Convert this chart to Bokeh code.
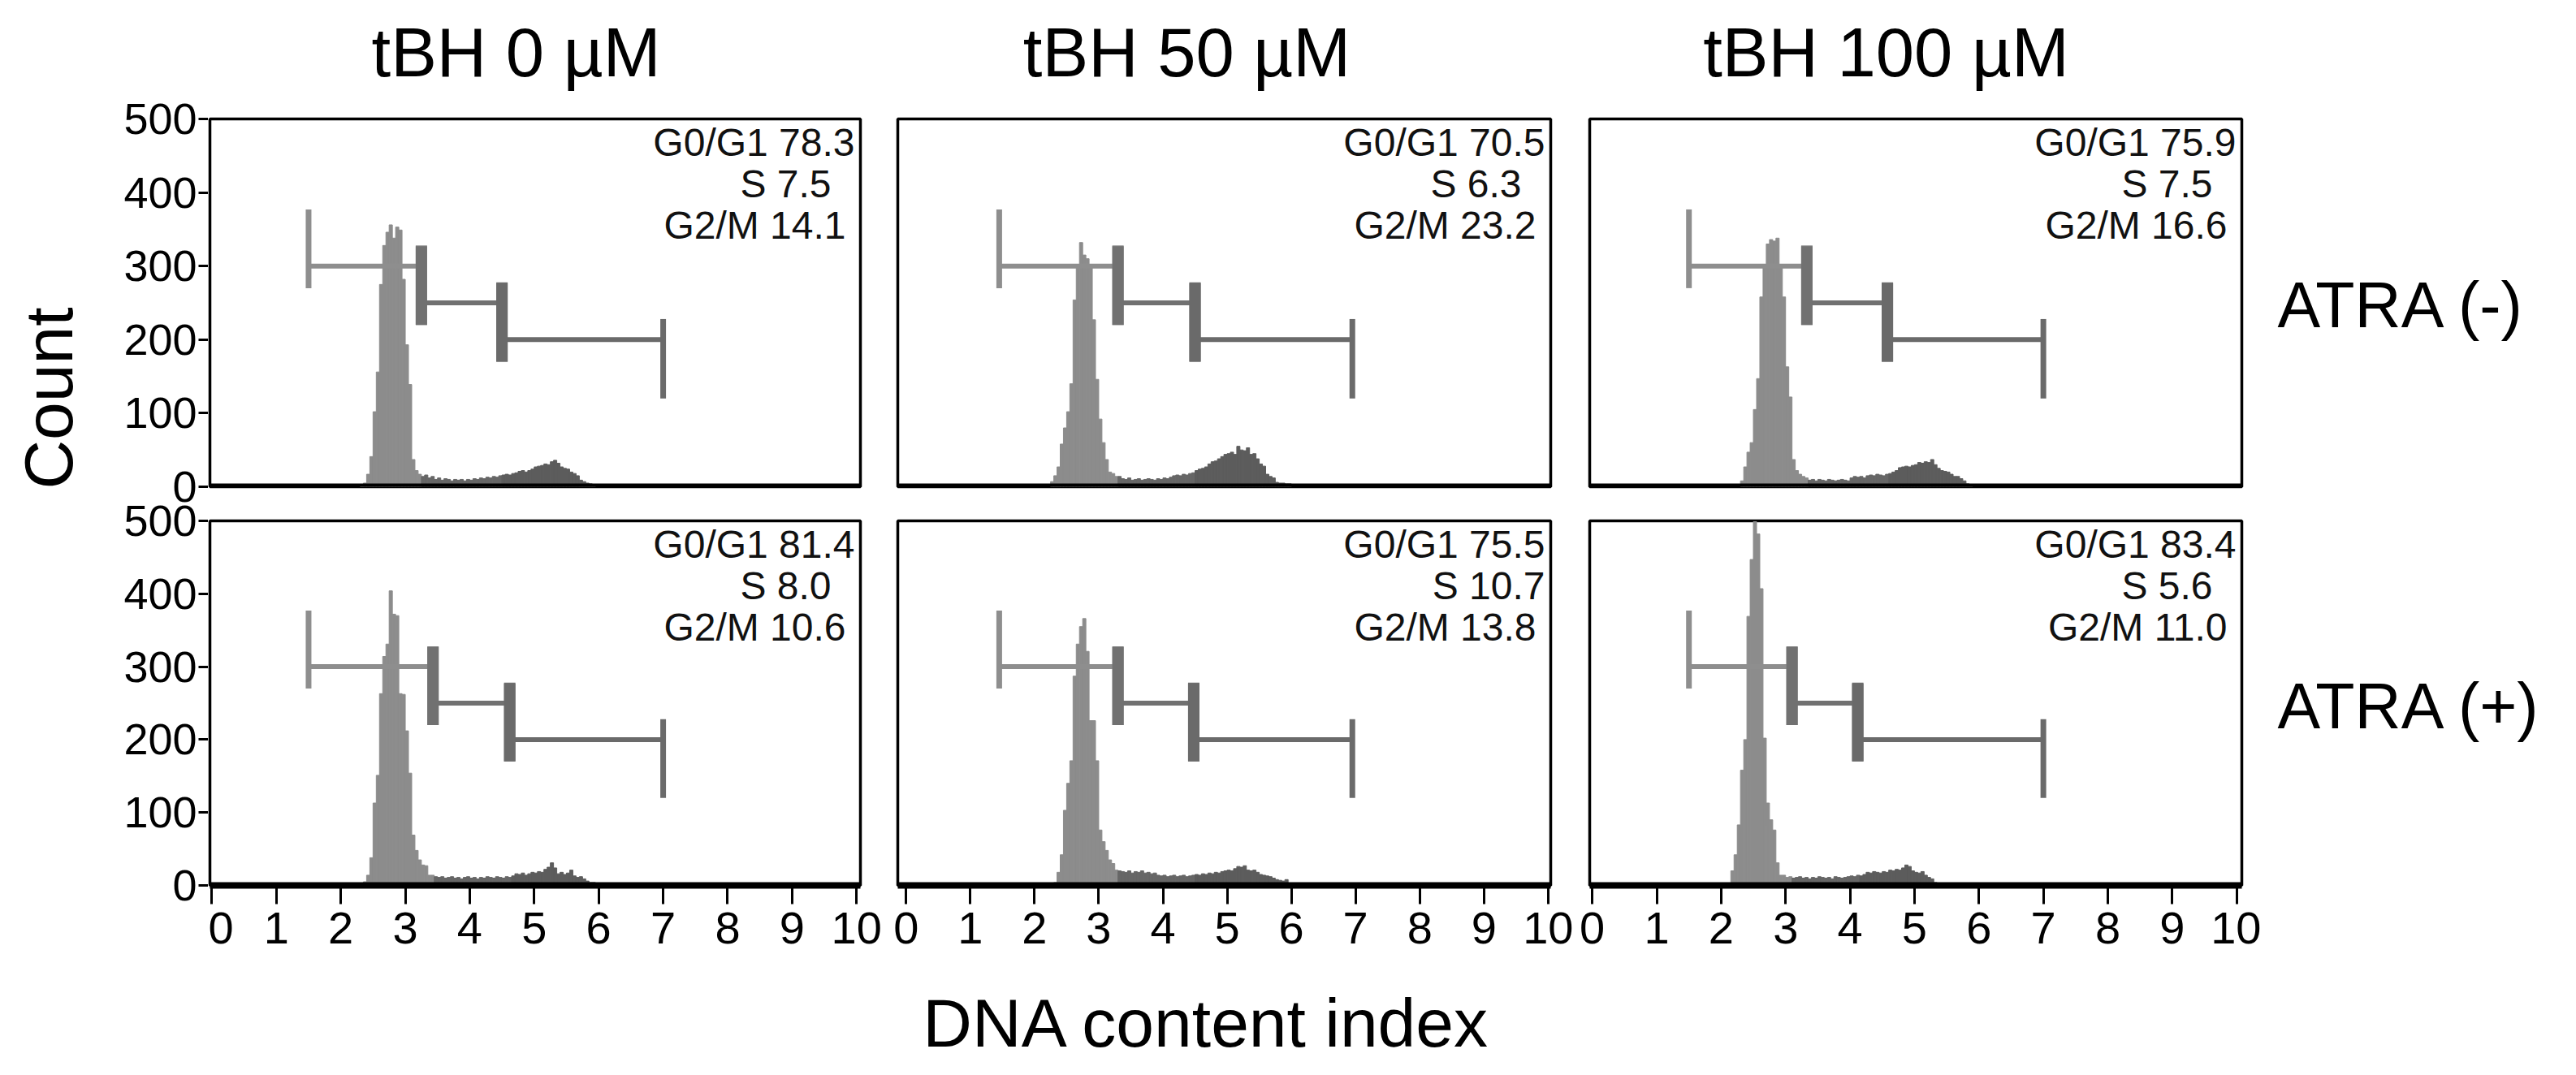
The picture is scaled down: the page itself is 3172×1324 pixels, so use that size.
import numpy as np
from bokeh.plotting import figure
from bokeh.models import Range1d, Label, Span, FixedTicker, ColumnDataSource
from bokeh.layouts import row, column
from bokeh.embed import file_html
from bokeh.resources import INLINE

# ---------------- data ----------------
COLUMN_TITLES = ["tBH 0 µM", "tBH 50 µM", "tBH 100 µM"]
ROW_LABELS = ["ATRA (-)", "ATRA (+)"]
X_LABEL = "DNA content index"
Y_LABEL = "Count"
X_TICKS = [0, 1, 2, 3, 4, 5, 6, 7, 8, 9, 10]
Y_TICKS = [0, 100, 200, 300, 400, 500]

BIN_WIDTH = 0.05
# panel order: row1 col1..col3, row2 col1..col3
HIST_START = [2.30, 2.25, 2.30, 2.30, 2.30, 2.15]

HIST_R1C1 = [0, 5, 17, 41, 102, 156, 275, 328, 346, 356, 338, 353, 349, 282, 193, 139, 37, 22,
             17, 14, 16, 12, 14, 10, 12, 9, 11, 10, 8, 10, 9, 10, 8, 10, 9, 11, 10, 12, 11, 13,
             12, 14, 13, 15, 16, 17, 16, 18, 19, 21, 22, 20, 22, 24, 27, 28, 29, 31, 30, 34,
             36, 32, 27, 25, 24, 20, 18, 15, 9, 7, 5, 4, 3]
HIST_R1C2 = [7, 15, 27, 58, 80, 102, 140, 254, 302, 332, 315, 310, 300, 227, 146, 92, 60, 37,
             20, 18, 14, 14, 11, 10, 12, 9, 10, 11, 9, 10, 11, 10, 9, 11, 10, 12, 11, 13, 15,
             16, 15, 17, 16, 18, 19, 22, 24, 25, 27, 31, 34, 35, 38, 41, 44, 45, 47, 44, 55,
             50, 49, 53, 44, 45, 38, 31, 28, 17, 14, 12, 6, 5, 5, 4, 4]
HIST_R1C3 = [8, 27, 47, 60, 105, 147, 258, 302, 330, 336, 334, 338, 300, 258, 163, 122, 37, 22,
             17, 14, 12, 9, 10, 8, 10, 9, 8, 10, 9, 8, 9, 10, 9, 8, 12, 14, 13, 14, 12, 15,
             16, 15, 17, 16, 15, 17, 18, 20, 22, 26, 27, 28, 27, 29, 30, 33, 32, 34, 33, 37,
             30, 25, 22, 21, 20, 17, 14, 14, 11, 8, 4, 3]
HIST_R2C1 = [0, 5, 14, 38, 113, 151, 263, 314, 331, 404, 372, 370, 263, 262, 212, 154, 69, 48,
             35, 28, 27, 14, 14, 12, 11, 12, 10, 11, 12, 10, 11, 9, 11, 12, 10, 11, 9, 11, 10,
             12, 11, 10, 12, 11, 10, 12, 11, 13, 16, 15, 17, 14, 16, 18, 17, 19, 18, 22, 25,
             31, 24, 16, 18, 15, 17, 21, 13, 11, 12, 9, 6, 4, 4, 3]
HIST_R2C2 = [4, 18, 42, 103, 140, 171, 287, 331, 355, 366, 321, 226, 226, 171, 76, 60, 48, 35,
             30, 21, 20, 19, 18, 20, 17, 19, 18, 20, 17, 18, 16, 17, 14, 13, 14, 12, 13, 14,
             12, 13, 14, 12, 13, 14, 15, 14, 16, 15, 17, 16, 18, 17, 19, 20, 21, 20, 23, 26,
             25, 27, 21, 20, 21, 18, 15, 14, 13, 12, 10, 8, 7, 6, 8]
HIST_R2C3 = [20, 42, 83, 158, 200, 369, 447, 499, 482, 407, 202, 113, 90, 76, 31, 14, 14, 11,
             12, 10, 11, 12, 10, 11, 9, 11, 10, 12, 11, 10, 11, 9, 12, 11, 10, 11, 12, 13, 12,
             14, 13, 15, 18, 17, 19, 18, 17, 19, 18, 21, 20, 22, 21, 24, 28, 26, 20, 18, 17,
             19, 14, 11, 9, 4, 3]
HISTS = [HIST_R1C1, HIST_R1C2, HIST_R1C3, HIST_R2C1, HIST_R2C2, HIST_R2C3]

G0G1 = [78.3, 70.5, 75.9, 81.4, 75.5, 83.4]
S_PHASE = [7.5, 6.3, 7.5, 8.0, 10.7, 5.6]
G2M = [14.1, 23.2, 16.6, 10.6, 13.8, 11.0]

GATE_START = [1.50, 1.45, 1.50, 1.50, 1.45, 1.50]
GATE_G1_END = [3.25, 3.30, 3.33, 3.43, 3.30, 3.10]
GATE_S_END = [4.50, 4.50, 4.58, 4.62, 4.48, 4.12]
GATE_END = [7.00, 6.95, 7.00, 7.00, 6.95, 7.00]
GATE_LEVELS = [300, 250, 200]

# ---------------- styles / layout ----------------
FONT = "Liberation Sans"
HIST_COLORS = ["#8c8c8c", "#666666", "#5c5c5c"]
GATE_COLORS = ["#8e8e8e", "#717171", "#6a6a6a"]
X_START = [-0.03, -0.13, -0.04]
X_END = [10.06, 10.04, 10.08]
COL_W = [830, 851, 847]
COL_LB = [2, 19, 20]
COL_RB = [27, 28, 24]
ROW_H = [490, 570]
ROW_TB = [16, 21]
ROW_BB = [21, 100]
TITLE_H = 130
TITLE_X = [379, 375, 385]
TOTAL_H = TITLE_H + ROW_H[0] + ROW_H[1]
FRAME_TOP = TITLE_H + ROW_TB[0]                  # top of upper frames (px)
FRAME_BOTTOM = TOTAL_H - ROW_BB[1]               # bottom of lower frames (px)
UPPER_FH = ROW_H[0] - ROW_TB[0] - ROW_BB[0]
LOWER_FH = ROW_H[1] - ROW_TB[1] - ROW_BB[1]
UPPER_BASE = LOWER_FH + ROW_BB[0] + ROW_TB[1]    # upper zero line, px above lower zero line


def txt_label(x, y, text, size, align="left", angle=0.0, color="black"):
    return Label(x=x, y=y, x_units="screen", y_units="screen", text=text, angle=angle,
                 text_align=align, text_baseline="middle", text_font=FONT,
                 text_font_size=size, text_color=color)


def make_panel(r, c):
    i = r * 3 + c
    p = figure(width=COL_W[c], height=ROW_H[r],
               x_range=Range1d(X_START[c], X_END[c]), y_range=Range1d(0, 500),
               output_backend="svg", toolbar_location=None,
               x_axis_location="below" if r == 1 else None,
               y_axis_location=None,
               min_border_left=COL_LB[c], min_border_right=COL_RB[c],
               min_border_top=ROW_TB[r], min_border_bottom=ROW_BB[r])
    p.grid.visible = False
    p.outline_line_color = "black"
    p.outline_line_width = 3.5
    p.background_fill_color = "white"
    p.border_fill_color = "white"
    fw = COL_W[c] - COL_LB[c] - COL_RB[c]
    fh = ROW_H[r] - ROW_TB[r] - ROW_BB[r]

    # histogram
    counts = np.array(HISTS[i], dtype=float)
    left = HIST_START[i] + BIN_WIDTH * np.arange(len(counts))
    right = left + BIN_WIDTH
    colors = []
    for x in left:
        if x < GATE_G1_END[i] - 0.02:
            colors.append(HIST_COLORS[0])
        elif x < GATE_S_END[i] - 0.02:
            colors.append(HIST_COLORS[1])
        else:
            colors.append(HIST_COLORS[2])
    src = ColumnDataSource(dict(left=left, right=right, top=counts,
                                bottom=np.zeros_like(counts), color=colors))
    p.quad(left="left", right="right", top="top", bottom="bottom", source=src,
           fill_color="color", line_color="color", line_width=1)

    # gates
    bounds = [GATE_START[i], GATE_G1_END[i], GATE_S_END[i], GATE_END[i]]
    for k in range(3):
        a, b, lev = bounds[k], bounds[k + 1], GATE_LEVELS[k]
        col = GATE_COLORS[k]
        p.segment(x0=[a], y0=[lev], x1=[b], y1=[lev], line_color=col, line_width=6)
        p.segment(x0=[a], y0=[lev - 30], x1=[a], y1=[lev + 77], line_color=col,
                  line_width=7 if k == 0 else 14)
        p.segment(x0=[b], y0=[lev - 80], x1=[b], y1=[lev + 28], line_color=col,
                  line_width=7 if k == 2 else 14)

    # phase percentages
    s_txt = "%.1f" % S_PHASE[i]
    lines = [("G0/G1 %.1f" % G0G1[i], -7, 29),
             ("S " + s_txt, -7 - 29 * (4 - len(s_txt)), 80),
             ("G2/M %.1f" % G2M[i], -18, 131)]
    for txt, dx, dy in lines:
        p.add_layout(txt_label(fw + dx, fh - dy, txt, "48px", align="right", color="#111111"))

    # axes
    if r == 0:
        p.add_layout(Span(location=0, dimension="width", line_color="black", line_width=8))
    else:
        ax = p.xaxis[0]
        ax.ticker = FixedTicker(ticks=X_TICKS)
        ax.axis_line_width = 8
        ax.axis_line_color = "black"
        ax.major_tick_line_width = 3
        ax.major_tick_line_color = "black"
        ax.major_tick_out = 23
        ax.major_tick_in = 0
        ax.minor_tick_line_color = None
        ax.major_label_standoff = 10
        ax.major_label_text_font = FONT
        ax.major_label_text_font_size = "56px"
        ax.major_label_text_color = "black"
    return p


def blank(w, h):
    p = figure(width=w, height=h, x_range=Range1d(0, 1), y_range=Range1d(0, 1),
               output_backend="svg", toolbar_location=None,
               x_axis_location=None, y_axis_location=None, min_border=0)
    p.grid.visible = False
    p.outline_line_color = None
    p.background_fill_color = "white"
    p.border_fill_color = "white"
    return p


panels = [[make_panel(r, c) for c in range(3)] for r in range(2)]

# shared count axis for both rows (one axis, two panels' scales)
axis_strip = figure(width=116, height=TOTAL_H, x_range=Range1d(0, 1),
                    y_range=Range1d(0, FRAME_BOTTOM - FRAME_TOP),
                    output_backend="svg", toolbar_location=None,
                    x_axis_location=None, y_axis_location="left",
                    min_border_left=104, min_border_right=0,
                    min_border_top=FRAME_TOP, min_border_bottom=ROW_BB[1])
axis_strip.grid.visible = False
axis_strip.outline_line_color = None
axis_strip.background_fill_color = "white"
axis_strip.border_fill_color = "white"
tick_pos, overrides = [], {}
for t in Y_TICKS:
    lo = round(t * LOWER_FH / 500.0, 3)
    up = round(UPPER_BASE + t * UPPER_FH / 500.0, 3)
    for v in (lo, up):
        tick_pos.append(v)
        overrides[v] = str(t)
ay = axis_strip.yaxis[0]
ay.ticker = FixedTicker(ticks=tick_pos)
ay.major_label_overrides = overrides
ay.axis_line_color = None
ay.major_tick_line_width = 3
ay.major_tick_line_color = "black"
ay.major_tick_out = 0
ay.major_tick_in = 12
ay.minor_tick_line_color = None
ay.major_label_standoff = 2
ay.major_label_text_font = FONT
ay.major_label_text_font_size = "54px"
ay.major_label_text_color = "black"

title_strips = []
for c in range(3):
    t = blank(COL_W[c], TITLE_H)
    t.add_layout(txt_label(TITLE_X[c], 66, COLUMN_TITLES[c], "85px", align="center"))
    title_strips.append(t)

count_strip = blank(140, TOTAL_H)
count_strip.add_layout(txt_label(59, 600, Y_LABEL, "84px", align="center", angle=np.pi / 2))

atra_strips = []
for h, ymid, lab in zip([TITLE_H + ROW_H[0], ROW_H[1]], [245, 321], ROW_LABELS):
    s = blank(388, h)
    s.add_layout(txt_label(20, ymid, lab, "79px", align="left"))
    atra_strips.append(s)

dna_strip = blank(3172, 134)
dna_strip.add_layout(txt_label(1486, 65, X_LABEL, "84px", align="center"))

layout = column(
    row(count_strip, axis_strip,
        column(row(*title_strips), row(*panels[0]), row(*panels[1])),
        column(*atra_strips)),
    dna_strip)

open("out.html", "w").write(file_html(layout, INLINE))
